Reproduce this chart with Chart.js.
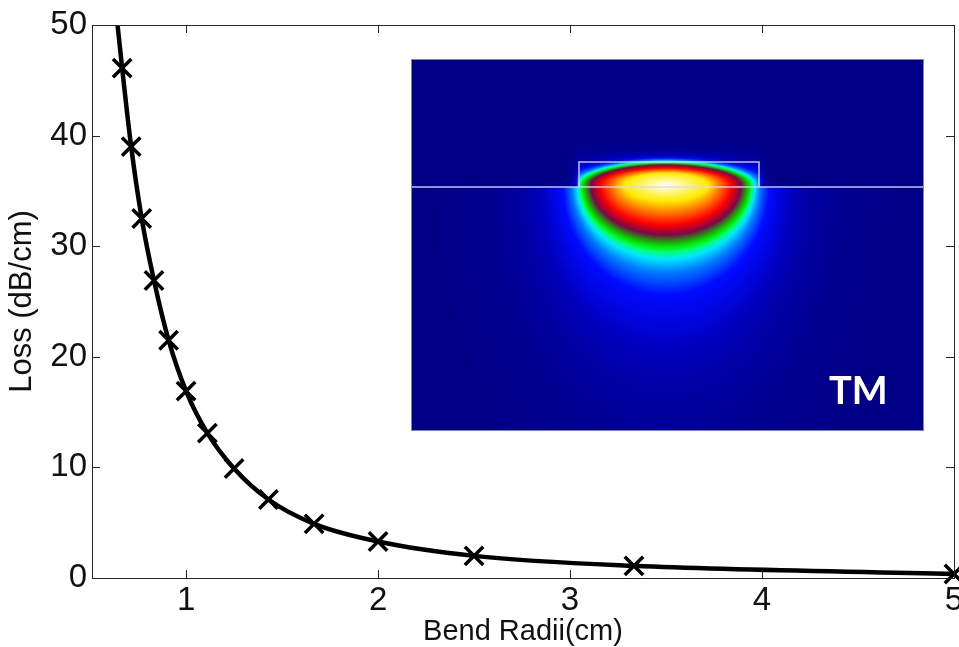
<!DOCTYPE html>
<html>
<head>
<meta charset="utf-8">
<title>Bend loss</title>
<script src="https://cdn.jsdelivr.net/npm/chart.js@4.4.1/dist/chart.umd.min.js"></script>
<style>
  html, body { margin: 0; padding: 0; background: #fff; }
  canvas { display: block; }
</style>
</head>
<body>
<canvas id="lossChart" width="959" height="647"></canvas>
<script>
// bend radius (cm) and loss (dB/cm) at each simulated radius
const radii = [0.667, 0.714, 0.769, 0.833, 0.909, 1.0, 1.111, 1.25, 1.429, 1.667, 2.0, 2.5, 3.333, 5.0];
const loss = [46.1, 39.0, 32.5, 26.9, 21.5, 16.9, 13.1, 9.9, 7.1, 4.9, 3.3, 2.0, 1.1, 0.36];

// fitted curve; it leaves the top of the axes on the left
const fitRadii = [0.64, ...radii];
const fitLoss = [50.5, ...loss];

const xTicks = [1, 2, 3, 4, 5];
const yTicks = [0, 10, 20, 30, 40, 50];

const FONT = '"Liberation Sans", Arial, Helvetica, sans-serif';

// ---- TM mode profile inset ----
const inset = { x: 411, y: 59, w: 513, h: 372 };
const core = { cx: 666, cy: 185, left: 579, right: 759, top: 162, iface: 187 };

// colour scale of the mode solver plot
const cmap = [
  [0.00, [0, 0, 135]], [0.06, [0, 0, 190]], [0.14, [0, 10, 255]],
  [0.24, [0, 120, 255]], [0.32, [0, 230, 255]], [0.40, [0, 255, 120]],
  [0.46, [0, 240, 0]], [0.52, [40, 140, 20]], [0.58, [120, 10, 75]],
  [0.66, [200, 0, 30]], [0.72, [255, 0, 0]], [0.82, [255, 130, 0]],
  [0.90, [255, 235, 0]], [1.00, [255, 255, 240]]
];
function colour(t) {
  t = Math.max(0, Math.min(1, t));
  for (let i = 1; i < cmap.length; i++) {
    if (t <= cmap[i][0]) {
      const [t0, c0] = cmap[i - 1], [t1, c1] = cmap[i];
      const f = (t - t0) / (t1 - t0);
      return c0.map((c, k) => c + f * (c1[k] - c));
    }
  }
  return cmap[cmap.length - 1][1];
}

// contour ellipses of the field: level, half width, depth below and height above the interface
const levels = [1.0, 0.9, 0.72, 0.58, 0.46, 0.32, 0.24, 0.14, 0.06, 0.03, 0.01, 0.002];
const halfW  = [0.5, 42, 65, 75, 84, 89, 94, 103, 125, 145, 180, 230];
const depth  = [0.5, 16, 40, 50, 62, 74, 88, 110, 165, 210, 270, 345];
const rise   = [0.5, 12, 17, 20, 22, 24, 25, 27, 29, 32, 37, 45];

function lerpLevel(arr, L) {
  for (let i = 1; i < levels.length; i++) {
    if (L >= levels[i]) {
      const f = (L - levels[i]) / (levels[i - 1] - levels[i]);
      return arr[i] + f * (arr[i - 1] - arr[i]);
    }
  }
  return arr[arr.length - 1];
}
function field(gx, gy) {
  const dx = gx - core.cx, dy = gy - core.cy;
  const vert = dy >= 0 ? depth : rise;
  const g = L => {
    const a = dx / lerpLevel(halfW, L), b = dy / lerpLevel(vert, L);
    return a * a + b * b;
  };
  let lo = levels[levels.length - 1], hi = 1;
  if (g(lo) > 1) return 0;
  for (let i = 0; i < 22; i++) {
    const mid = (lo + hi) / 2;
    if (g(mid) > 1) hi = mid; else lo = mid;
  }
  let v = lo;
  // above the interface the light stays inside the core
  const hw = (core.right - core.left) / 2;
  const ox = Math.abs(gx - (core.left + core.right) / 2) - hw;
  if (gy < core.iface && ox > 0) v *= Math.exp(-ox / 3);
  return v;
}

let modeImage = null;
function buildMode() {
  const off = document.createElement('canvas');
  off.width = inset.w; off.height = inset.h;
  const octx = off.getContext('2d');
  const img = octx.createImageData(inset.w, inset.h);
  for (let py = 0; py < inset.h; py++) {
    for (let px = 0; px < inset.w; px++) {
      const c = colour(field(inset.x + px + 0.5, inset.y + py + 0.5));
      const k = (py * inset.w + px) * 4;
      img.data[k] = c[0]; img.data[k + 1] = c[1]; img.data[k + 2] = c[2]; img.data[k + 3] = 255;
    }
  }
  octx.putImageData(img, 0, 0);
  return off;
}

const modeInset = {
  id: 'modeInset',
  beforeDatasetsDraw(chart) {
    const ctx = chart.ctx;
    if (!modeImage) modeImage = buildMode();
    ctx.save();
    ctx.drawImage(modeImage, inset.x, inset.y);
    ctx.strokeStyle = 'rgba(140,140,210,0.9)';
    ctx.lineWidth = 1;
    ctx.strokeRect(inset.x + 0.5, inset.y + 0.5, inset.w - 1, inset.h - 1);
    // substrate interface and waveguide core outline
    ctx.strokeStyle = 'rgba(215,215,255,0.9)';
    ctx.lineWidth = 1.5;
    ctx.beginPath();
    ctx.moveTo(inset.x + 1, core.iface);
    ctx.lineTo(inset.x + inset.w - 1, core.iface);
    ctx.moveTo(core.left, core.iface);
    ctx.lineTo(core.left, core.top);
    ctx.lineTo(core.right, core.top);
    ctx.lineTo(core.right, core.iface);
    ctx.stroke();
    ctx.fillStyle = '#ffffff';
    ctx.font = 'bold 38px Lato, "Open Sans", sans-serif';
    ctx.textAlign = 'left';
    ctx.textBaseline = 'alphabetic';
    ctx.fillText('TM', 829, 404);
    ctx.restore();
  }
};

// box around the axes with inward tick marks on all four sides
const frame = {
  id: 'frame',
  afterDraw(chart) {
    const { ctx, chartArea: a, scales: { x, y } } = chart;
    const len = 8;
    ctx.save();
    ctx.strokeStyle = '#262626';
    ctx.lineWidth = 1;
    ctx.strokeRect(a.left + 0.5, a.top + 0.5, a.right - a.left, a.bottom - a.top);
    ctx.beginPath();
    x.ticks.forEach(t => {
      const px = Math.round(x.getPixelForValue(t.value)) + 0.5;
      ctx.moveTo(px, a.bottom); ctx.lineTo(px, a.bottom - len);
      ctx.moveTo(px, a.top); ctx.lineTo(px, a.top + len);
    });
    y.ticks.forEach(t => {
      const py = Math.round(y.getPixelForValue(t.value)) + 0.5;
      ctx.moveTo(a.left, py); ctx.lineTo(a.left + len, py);
      ctx.moveTo(a.right, py); ctx.lineTo(a.right - len, py);
    });
    ctx.stroke();
    ctx.restore();
  }
};

new Chart(document.getElementById('lossChart'), {
  type: 'line',
  data: {
    datasets: [
      {
        label: 'fit',
        data: fitRadii.map((r, i) => ({ x: r, y: fitLoss[i] })),
        borderColor: '#000',
        borderWidth: 4.5,
        pointRadius: 0,
        cubicInterpolationMode: 'monotone',
        fill: false
      },
      {
        label: 'Loss',
        data: radii.map((r, i) => ({ x: r, y: loss[i] })),
        showLine: false,
        pointStyle: 'crossRot',
        pointRadius: 13,
        pointBorderWidth: 3.5,
        borderColor: '#000',
        backgroundColor: '#000',
        clip: false
      }
    ]
  },
  options: {
    responsive: false,
    animation: false,
    layout: { padding: { top: 25, right: 5, left: 0, bottom: 0 }, autoPadding: false },
    plugins: { legend: { display: false }, tooltip: { enabled: false } },
    scales: {
      x: {
        type: 'linear',
        min: 0.51,
        max: 5,
        afterBuildTicks: s => { s.ticks = xTicks.map(v => ({ value: v })); },
        afterFit: s => { s.height = 69; s.paddingLeft = 0; s.paddingRight = 0; },
        grid: { display: false, drawTicks: false },
        border: { display: false },
        ticks: { font: { family: FONT, size: 33 }, color: '#111', padding: 3, maxRotation: 0, autoSkip: false },
        title: {
          display: true,
          text: 'Bend Radii(cm)',
          color: '#111',
          font: { family: FONT, size: 29, lineHeight: 1 },
          padding: { top: 0, bottom: 1 }
        }
      },
      y: {
        min: 0,
        max: 50,
        afterBuildTicks: s => { s.ticks = yTicks.map(v => ({ value: v })); },
        afterFit: s => { s.width = 92; s.paddingTop = 0; s.paddingBottom = 0; },
        grid: { display: false, drawTicks: false },
        border: { display: false },
        ticks: { font: { family: FONT, size: 33 }, color: '#111', padding: 5 },
        title: {
          display: true,
          text: 'Loss (dB/cm)',
          color: '#111',
          font: { family: FONT, size: 31, lineHeight: 1.2 },
          padding: { top: 4, bottom: 0 }
        }
      }
    }
  },
  plugins: [modeInset, frame]
});
</script>
</body>
</html>
